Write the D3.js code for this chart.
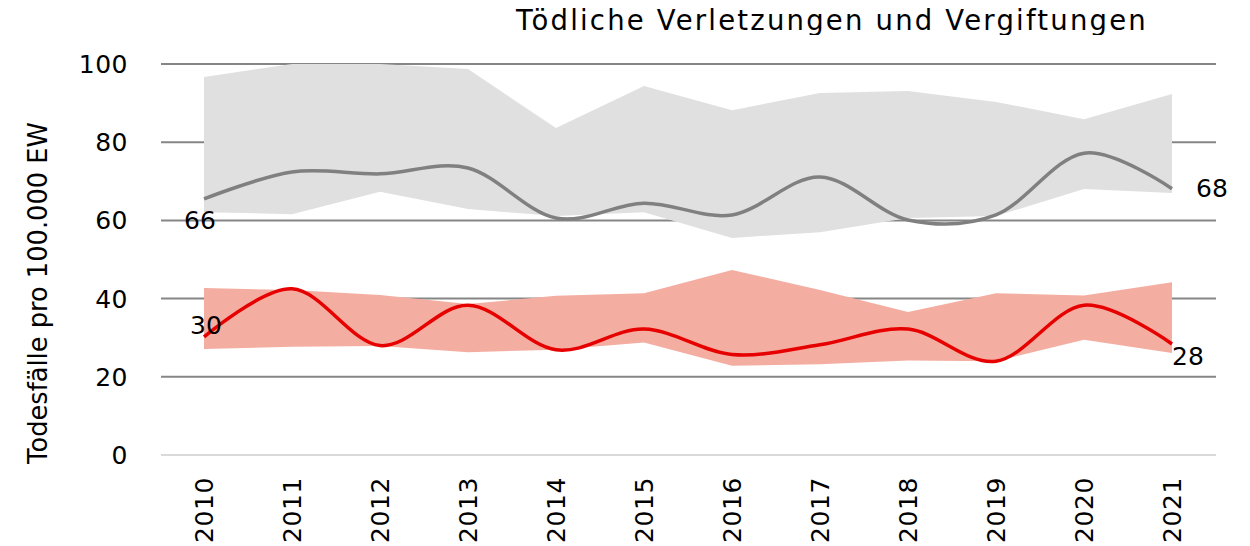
<!DOCTYPE html>
<html><head><meta charset="utf-8">
<script src="https://cdn.jsdelivr.net/npm/d3@7"></script>
<style>body{margin:0;background:#fff}svg{display:block}</style>
</head><body>
<script>
const years = ["2010","2011","2012","2013","2014","2015","2016","2017","2018","2019","2020","2021"];
const grayMean = [65.5,72.4,71.9,73.4,60.6,64.4,61.4,71.1,60.1,61.4,77.2,68.1];
const grayLow  = [62.1,61.6,67.3,62.9,61.1,62.1,55.5,57.0,60.6,61.1,68.0,67.0];
const grayHigh = [96.7,100,100,98.7,83.6,94.4,88.2,92.6,93.1,90.3,85.9,92.3];
const redMean  = [30.2,42.5,28.0,38.3,26.9,32.2,25.7,28.2,32.2,24.0,38.3,28.4];
const redLow   = [27.1,27.7,27.9,26.3,26.9,28.8,22.8,23.2,24.2,24.0,29.5,26.1];
const redHigh  = [42.7,42.2,40.9,38.6,40.7,41.4,47.3,42.2,36.6,41.4,40.8,44.2];
const yTicks = [0,20,40,60,80,100];
const title = "Tödliche Verletzungen und Vergiftungen";
const yTitle = "Todesfälle pro 100.000 EW";
const grayLabels = ["66","68"];
const redLabels = ["30","28"];

const W=1250,H=546;
const svg=d3.select("body").append("svg").attr("width",W).attr("height",H);
const x=d3.scalePoint().domain(years).range([204,1172]);
const y=d3.scaleLinear().domain([0,100]).range([455,64]);
const font="DejaVu Sans";

// gridlines
svg.append("g").selectAll("line").data(yTicks).join("line")
  .attr("x1",161).attr("x2",1216).attr("y1",d=>y(d)).attr("y2",d=>y(d))
  .attr("stroke",d=>d===0?"#d9d9d9":"#868686").attr("stroke-width",2);

// y tick labels
svg.append("g").selectAll("text").data(yTicks).join("text")
  .attr("x",128).attr("y",d=>y(d)).attr("dy","0.36em").attr("text-anchor","end")
  .attr("font-family",font).attr("font-size",25).attr("letter-spacing",0.5).attr("fill","#000").text(d=>d);

const idx=d3.range(years.length);
const area=(lo,hi)=>d3.area().x(i=>x(years[i])).y0(i=>y(lo[i])).y1(i=>y(hi[i]));
svg.append("path").datum(idx).attr("d",area(grayLow,grayHigh)).attr("fill","#e0e0e0");
svg.append("path").datum(idx).attr("d",area(redLow,redHigh)).attr("fill","#f4ada1");

const line=(v)=>d3.line().x(i=>x(years[i])).y(i=>y(v[i])).curve(d3.curveCardinal.tension(0));
svg.append("path").datum(idx).attr("d",line(grayMean)).attr("fill","none").attr("stroke","#808080").attr("stroke-width",3.5);
svg.append("path").datum(idx).attr("d",line(redMean)).attr("fill","none").attr("stroke","#e60000").attr("stroke-width",3.5);

// data labels
const lab=(txt,xx,yy,anchor)=>svg.append("text").attr("x",xx).attr("y",yy).attr("text-anchor",anchor)
  .attr("font-family",font).attr("font-size",25).attr("fill","#000").text(txt);
lab(grayLabels[0],x(years[0])-4,y(grayMean[0])+30,"middle");
lab(grayLabels[1],x(years[11])+24,y(grayMean[11])+8,"start");
lab(redLabels[0],x(years[0])+2,y(redMean[0])-3,"middle");
lab(redLabels[1],x(years[11])+0,y(redMean[11])+21,"start");

// x labels
svg.append("g").selectAll("text").data(years).join("text")
  .attr("transform",d=>`translate(${x(d)},477) rotate(-90)`)
  .attr("dy","0.36em").attr("text-anchor","end")
  .attr("font-family",font).attr("font-size",25).attr("letter-spacing",0.6).attr("fill","#000").text(d=>d);

// y title
svg.append("text").attr("transform","translate(38,293) rotate(-90)")
  .attr("dy","0.36em").attr("text-anchor","middle")
  .attr("font-family",font).attr("font-size",25.7).attr("fill","#000").text(yTitle);

// title (clipped at bottom like reference)
svg.append("clipPath").attr("id","tc").append("rect").attr("x",0).attr("y",0).attr("width",W).attr("height",35);
svg.append("text").attr("clip-path","url(#tc)").attr("x",832).attr("y",30).attr("text-anchor","middle")
  .attr("font-family",font).attr("font-size",27.5).attr("letter-spacing",2.2).attr("fill","#000").text(title);
</script>
</body></html>
